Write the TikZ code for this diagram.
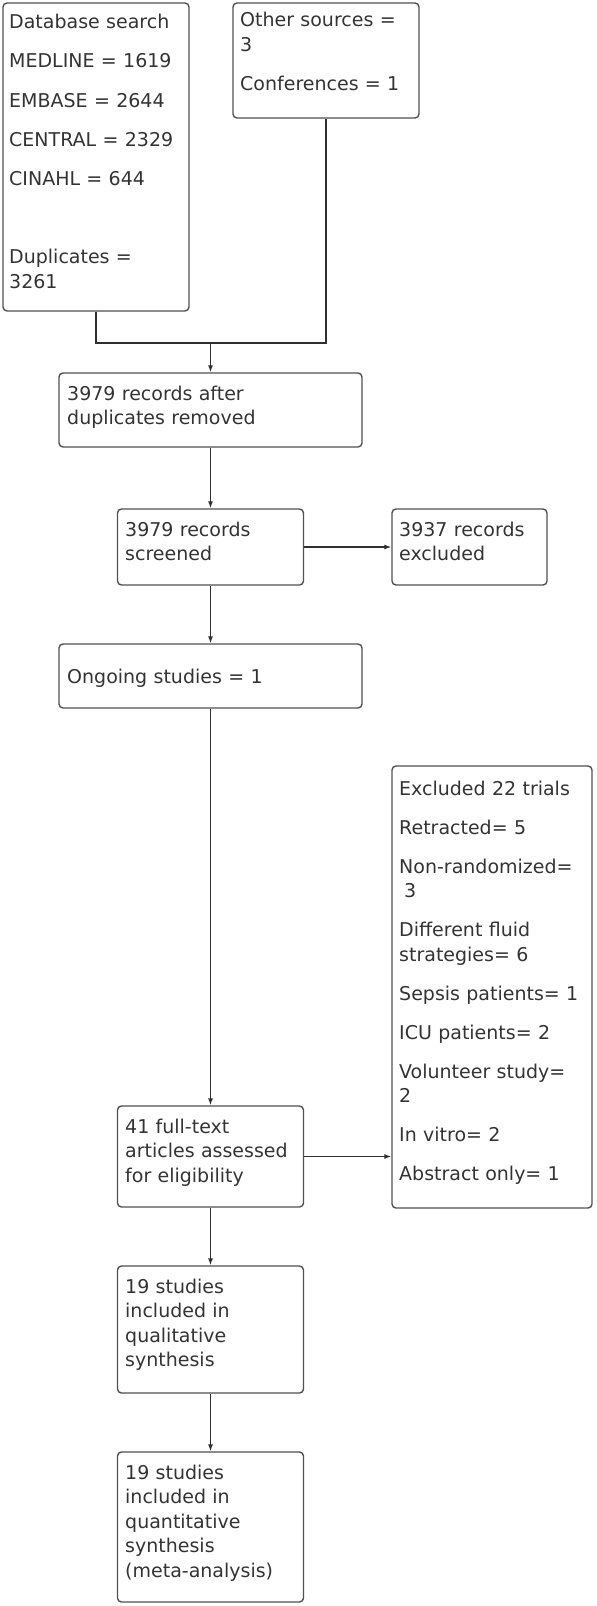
\documentclass[tikz,border=0pt]{standalone}
\usepackage{fontspec}
\setmainfont{DejaVu Sans}
\usetikzlibrary{arrows.meta}
\definecolor{boxline}{HTML}{505050}
\definecolor{txtcol}{HTML}{333333}
\definecolor{linecol}{HTML}{303030}
\begin{document}
\begin{tikzpicture}[x=1bp,y=-1bp,
  box/.style n args={2}{draw=boxline, line width=1.4bp, rounded corners=4bp,
     minimum width=#1bp, minimum height=#2bp, inner sep=0pt},
  txt/.style={anchor=base west, inner sep=0pt, align=left, text width=200bp,
     text=txtcol, font=\fontsize{19bp}{24.5bp}\selectfont},
  conn/.style={draw=linecol, line width=1.1bp},
  arr/.style={conn, -{Latex[length=7bp,width=5bp]}}
]
\useasboundingbox (0,0) rectangle (597,1606);

% boxes
\node[box={186}{308}] (db)   at (96,157) {};
\node[box={186}{115}] (oth)  at (326,60.5) {};
\node[box={303}{74}]  (aft)  at (210.5,410) {};
\node[box={186}{76}]  (scr)  at (210.5,547) {};
\node[box={155}{76}]  (ex1)  at (469.5,547) {};
\node[box={303}{64}]  (ong)  at (210.5,676) {};
\node[box={200}{442}] (ex2)  at (492,987) {};
\node[box={186}{101}] (ft)   at (210.5,1156.5) {};
\node[box={186}{127}] (qual) at (210.5,1329.5) {};
\node[box={186}{150}] (quan) at (210.5,1527) {};

% texts
\node[txt] (tdb) at (9,29) {Database search\\[14.5bp]MEDLINE = 1619\\[14.5bp]EMBASE = 2644\\[14.5bp]CENTRAL = 2329\\[14.5bp]CINAHL = 644\\[54bp]Duplicates =\\3261};
\node[txt] (toth) at (240,27) {Other sources =\\3\\[14.5bp]Conferences = 1};
\node[txt] (taft) at (67,400) {3979 records after\\duplicates removed};
\node[txt] (tscr) at (125,536) {3979 records\\screened};
\node[txt] (tex1) at (399,536) {3937 records\\excluded};
\node[txt] (tong) at (67,683) {Ongoing studies = 1};
\node[txt] (tex2) at (399,795) {Excluded 22 trials\\[14.5bp]Retracted= 5\\[14.5bp]Non-randomized=\\\hspace*{5bp}3\\[14.5bp]Different fluid\\strategies= 6\\[14.5bp]Sepsis patients= 1\\[14.5bp]ICU patients= 2\\[14.5bp]Volunteer study=\\2\\[14.5bp]In vitro= 2\\[14.5bp]Abstract only= 1};
\node[txt] (tft) at (125,1133) {41 full-text\\articles assessed\\for eligibility};
\node[txt] (tqual) at (125,1293) {19 studies\\included in\\qualitative\\synthesis};
\node[txt] (tquan) at (125,1479) {19 studies\\included in\\quantitative\\synthesis\\(meta-analysis)};

% connectors
\coordinate (merge) at (210.5,343);
\draw[conn] (db.south) |- (merge);
\draw[conn] (oth.south) |- (merge);
\draw[arr] (merge) -- (aft.north);
\draw[arr] (aft.south) -- (scr.north);
\draw[arr] (scr.east) -- (ex1.west);
\draw[arr] (scr.south) -- (ong.north);
\draw[arr] (ong.south) -- (ft.north);
\draw[arr] (ft.east) -- (ft.east -| ex2.west);
\draw[arr] (ft.south) -- (qual.north);
\draw[arr] (qual.south) -- (quan.north);
\end{tikzpicture}
\end{document}
